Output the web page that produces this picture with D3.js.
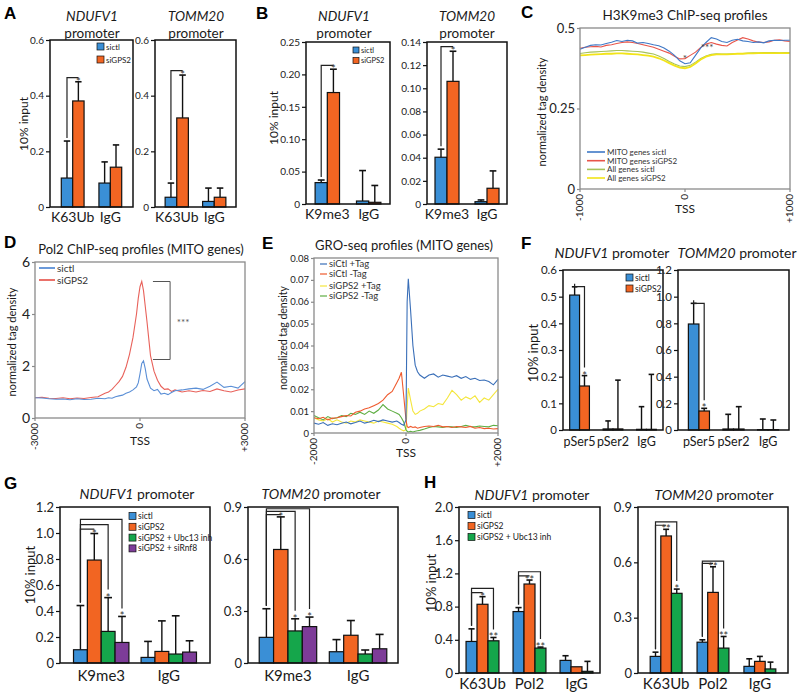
<!DOCTYPE html>
<html><head><meta charset="utf-8">
<script src="https://cdn.jsdelivr.net/npm/d3@7"></script>
<style>body{margin:0;background:#fff}svg{display:block}</style>
</head><body><script>
// ---------------- DATA ----------------
const colBlue = "#3a8fd6", colOrange = "#f26522", colGreen = "#15a64b", colPurple = "#7d3c98";
// Panel A
const catsA = ["K63Ub", "IgG"];
const seriesAB = ["sictl", "siGPS2"];
const a1Sictl = [0.104, 0.086], a1SictlErr = [0.133, 0.076];
const a1SiGPS2 = [0.381, 0.143], a1SiGPS2Err = [0.069, 0.080];
const a2Sictl = [0.035, 0.020], a2SictlErr = [0.051, 0.048];
const a2SiGPS2 = [0.320, 0.035], a2SiGPS2Err = [0.154, 0.033];
const ticksA = [0, 0.2, 0.4, 0.6], tickLabelsA = ["0", "0.2", "0.4", "0.6"];
// Panel B
const catsB = ["K9me3", "IgG"];
const b1Sictl = [0.033, 0.0046], b1SictlErr = [0.004, 0.047];
const b1SiGPS2 = [0.172, 0.0026], b1SiGPS2Err = [0.036, 0.026];
const b2Sictl = [0.0404, 0.002], b2SictlErr = [0.007, 0.0015];
const b2SiGPS2 = [0.106, 0.0136], b2SiGPS2Err = [0.026, 0.015];
const ticksB1 = [0, 0.05, 0.10, 0.15, 0.20, 0.25], tickLabelsB1 = ["0", "0.05", "0.10", "0.15", "0.20", "0.25"];
const ticksB2 = [0, 0.02, 0.04, 0.06, 0.08, 0.10, 0.12, 0.14], tickLabelsB2 = ["0", "0.02", "0.04", "0.06", "0.08", "0.10", "0.12", "0.14"];
// Panel C
const cX = [-1000,-950,-900,-850,-800,-750,-700,-650,-600,-550,-500,-450,-400,-350,-300,-250,-200,-150,-100,-50,0,50,100,150,200,250,300,350,400,450,500,550,600,650,700,750,800,850,900,950,1000];
const cMitoSictl = [0.434,0.44,0.446,0.448,0.447,0.452,0.456,0.461,0.458,0.462,0.460,0.453,0.455,0.452,0.448,0.445,0.438,0.428,0.415,0.398,0.389,0.392,0.415,0.438,0.455,0.470,0.466,0.458,0.455,0.462,0.465,0.46,0.458,0.455,0.457,0.454,0.46,0.462,0.461,0.462,0.462];
const cMitoSiGPS2 = [0.437,0.44,0.442,0.443,0.441,0.446,0.448,0.452,0.455,0.457,0.455,0.452,0.448,0.444,0.44,0.434,0.428,0.422,0.412,0.404,0.405,0.415,0.425,0.44,0.45,0.455,0.45,0.446,0.444,0.455,0.463,0.47,0.466,0.46,0.456,0.455,0.457,0.462,0.463,0.46,0.458];
const cAllSictl = [0.421,0.423,0.425,0.426,0.427,0.428,0.429,0.43,0.43,0.429,0.428,0.427,0.425,0.422,0.419,0.413,0.405,0.396,0.388,0.382,0.38,0.384,0.394,0.405,0.413,0.418,0.42,0.419,0.419,0.42,0.421,0.421,0.422,0.423,0.423,0.424,0.424,0.424,0.423,0.424,0.424];
const cAllSiGPS2 = [0.415,0.416,0.417,0.418,0.419,0.42,0.42,0.421,0.421,0.42,0.419,0.418,0.416,0.414,0.411,0.406,0.399,0.391,0.383,0.377,0.375,0.379,0.39,0.402,0.411,0.416,0.418,0.418,0.418,0.419,0.42,0.42,0.421,0.421,0.422,0.422,0.422,0.422,0.422,0.422,0.422];
const cYTicks = [0, 0.25, 0.5], cYLabels = ["0", "0.25", "0.5"];
const cXTicks = [-1000, 0, 1000], cXLabels = ["-1000", "0", "+1000"];
const cNames = ["MITO genes sictl", "MITO genes siGPS2", "All genes sictl", "All genes siGPS2"];
// Panel D
const dX = [-3000,-2800,-2600,-2400,-2200,-2000,-1800,-1600,-1400,-1200,-1000,-900,-800,-700,-600,-500,-400,-300,-200,-100,-50,0,50,100,150,200,300,400,500,600,700,800,900,1000,1200,1400,1600,1800,2000,2200,2400,2600,2800,3000];
const dSictl = [0.78,0.77,0.74,0.72,0.73,0.70,0.74,0.71,0.72,0.76,0.74,0.78,0.76,0.82,0.85,0.88,0.95,1.0,1.08,1.2,1.35,1.7,2.1,2.2,1.9,1.5,1.15,1.05,1.1,0.92,0.95,0.9,0.98,1.05,1.08,1.12,1.15,1.1,1.22,1.38,1.18,1.22,1.15,1.4];
const dSiGPS2 = [0.78,0.80,0.76,0.75,0.78,0.74,0.77,0.75,0.79,0.82,0.95,1.0,1.1,1.25,1.4,1.6,1.95,2.45,3.1,4.0,4.6,5.05,5.25,4.9,4.3,3.7,2.4,1.8,1.45,1.22,1.1,1.12,1.02,1.08,1.0,1.05,1.0,1.06,1.02,1.12,1.05,1.0,1.08,1.12];
const dYTicks = [0, 2, 4, 6], dYLabels = ["0", "2", "4", "6"];
const dXTicks = [-3000, 0, 3000], dXLabels = ["-3000", "0", "+3000"];
// Panel E
const eX = [-2000,-1900,-1800,-1700,-1600,-1500,-1400,-1300,-1200,-1100,-1000,-900,-800,-700,-600,-500,-400,-300,-200,-150,-100,-50,0,25,50,100,150,200,250,300,400,500,600,700,800,900,1000,1100,1200,1300,1400,1500,1600,1700,1800,1900,2000];
const eSiCtlPlus = [.0045,.0040,.0048,.0035,.0042,.0038,.0045,.0050,.0042,.0048,.0055,.0045,.0050,.0058,.0052,.0060,.0055,.0050,.0055,.0048,.0040,.0035,.0060,.0600,.0705,.0560,.0400,.0310,.0280,.0265,.0250,.0265,.0270,.0255,.0265,.0260,.0255,.0262,.0250,.0258,.0245,.0250,.0240,.0242,.0235,.0220,.0245];
const eSiCtlMinus = [.0070,.0065,.0072,.0060,.0068,.0070,.0075,.0080,.0078,.0095,.0100,.0110,.0115,.0125,.0135,.0150,.0175,.0190,.0230,.0250,.0278,.0170,.0060,.0030,.0025,.0030,.0025,.0028,.0022,.0025,.0030,.0032,.0030,.0035,.0028,.0030,.0025,.0030,.0028,.0025,.0030,.0022,.0025,.0020,.0022,.0018,.0020];
const eSiGPS2Plus = [.0070,.0060,.0055,.0065,.0050,.0060,.0050,.0045,.0055,.0050,.0060,.0055,.0050,.0045,.0055,.0050,.0045,.0040,.0030,.0022,.0015,.0010,.0015,.0120,.0205,.0150,.0100,.0085,.0090,.0100,.0110,.0125,.0120,.0135,.0130,.0160,.0195,.0175,.0150,.0165,.0155,.0170,.0140,.0160,.0150,.0175,.0200];
const eSiGPS2Minus = [.0080,.0070,.0060,.0075,.0065,.0070,.0080,.0075,.0090,.0085,.0095,.0085,.0100,.0090,.0105,.0130,.0110,.0100,.0090,.0085,.0070,.0050,.0015,.0008,.0005,.0008,.0005,.0008,.0010,.0012,.0018,.0025,.0030,.0028,.0025,.0030,.0028,.0025,.0030,.0035,.0030,.0028,.0032,.0030,.0028,.0035,.0033];
const eYTicks = [0,0.01,0.02,0.03,0.04,0.05,0.06,0.07,0.08], eYLabels = ["0","0.01","0.02","0.03","0.04","0.05","0.06","0.07","0.08"];
const eXTicks = [-2000, 0, 2000], eXLabels = ["-2000", "0", "+2000"];
const eNames = ["siCtl +Tag", "siCtl -Tag", "siGPS2 +Tag", "siGPS2 -Tag"];
// Panel F
const catsF = ["pSer5", "pSer2", "IgG"];
const f1Sictl = [0.506, 0.004, 0.0025], f1SictlErr = [0.031, 0.030, 0.085];
const f1SiGPS2 = [0.165, 0.004, 0.0025], f1SiGPS2Err = [0.039, 0.183, 0.206];
const f2Sictl = [0.795, 0.0075, 0.0025], f2SictlErr = [0.155, 0.11, 0.08];
const f2SiGPS2 = [0.1425, 0.0075, 0.0025], f2SiGPS2Err = [0.02, 0.1675, 0.0725];
const ticksF1 = [0,0.1,0.2,0.3,0.4,0.5,0.6], tickLabelsF1 = ["0","0.1","0.2","0.3","0.4","0.5","0.6"];
const ticksF2 = [0,0.2,0.4,0.6,0.8,1.0,1.2], tickLabelsF2 = ["0","0.2","0.4","0.6","0.8","1.0","1.2"];
// Panel G
const catsG = ["K9me3", "IgG"];
const seriesG = ["sictl", "siGPS2", "siGPS2 + Ubc13 inh", "siGPS2 + siRnf8"];
const g1Sictl = [0.102, 0.043], g1SictlErr = [0.34, 0.123];
const g1SiGPS2 = [0.792, 0.089], g1SiGPS2Err = [0.204, 0.235];
const g1Ubc13 = [0.243, 0.069], g1Ubc13Err = [0.26, 0.294];
const g1Rnf8 = [0.158, 0.084], g1Rnf8Err = [0.20, 0.087];
const g2Sictl = [0.148, 0.065], g2SictlErr = [0.165, 0.07];
const g2SiGPS2 = [0.655, 0.16], g2SiGPS2Err = [0.188, 0.085];
const g2Ubc13 = [0.185, 0.052], g2Ubc13Err = [0.07, 0.023];
const g2Rnf8 = [0.21, 0.082], g2Rnf8Err = [0.055, 0.083];
const ticksG1 = [0,0.2,0.4,0.6,0.8,1.0,1.2], tickLabelsG1 = ["0","0.2","0.4","0.6","0.8","1.0","1.2"];
const ticksG2 = [0,0.3,0.6,0.9], tickLabelsG2 = ["0","0.3","0.6","0.9"];
// Panel H
const catsH = ["K63Ub", "Pol2", "IgG"];
const seriesH = ["sictl", "siGPS2", "siGPS2 + Ubc13 inh"];
const h1Sictl = [0.38, 0.74, 0.152], h1SictlErr = [0.152, 0.048, 0.056];
const h1SiGPS2 = [0.828, 1.072, 0.075], h1SiGPS2Err = [0.092, 0.048, 0];
const h1Ubc13 = [0.388, 0.30, 0.02], h1Ubc13Err = [0.04, 0.012, 0.12];
const h2Sictl = [0.09, 0.167, 0.036], h2SictlErr = [0.023, 0.013, 0.041];
const h2SiGPS2 = [0.743, 0.437, 0.063], h2SiGPS2Err = [0.036, 0.139, 0.027];
const h2Ubc13 = [0.432, 0.135, 0.022], h2Ubc13Err = [0.023, 0.063, 0.037];
const ticksH1 = [0,0.4,0.8,1.2,1.6,2.0], tickLabelsH1 = ["0","0.4","0.8","1.2","1.6","2.0"];
// significance brackets: [category, from series, to series, bracket height, label]
const bracketsA1 = [["K63Ub",0,1,0.465,"*"]];
const bracketsA2 = [["K63Ub",0,1,0.49,"*"]];
const bracketsB1 = [["K9me3",0,1,0.214,"*"]];
const bracketsB2 = [["K9me3",0,1,0.136,"*"]];
const bracketsF1 = [["pSer5",0,1,0.5375,"*"]];
const bracketsF2 = [["pSer5",0,1,0.95,"*"]];
const bracketsG1 = [["K9me3",0,1,1.03,"*"],["K9me3",0,2,1.065,"*"],["K9me3",0,3,1.105,"*"]];
const bracketsG2 = [["K9me3",0,1,0.856,"*"],["K9me3",0,2,0.875,"*"],["K9me3",0,3,0.89,"*"]];
const bracketsH1 = [["K63Ub",0,1,0.968,"*"],["K63Ub",0,2,1.02,"**"],["Pol2",0,1,1.17,"**"],["Pol2",0,2,1.22,"**"]];
const bracketsH2 = [["K63Ub",0,1,0.801,"**"],["K63Ub",0,2,0.819,"*"],["Pol2",0,1,0.594,"**"],["Pol2",0,2,0.607,"**"]];

// ---------------- DRAWING ----------------
const FONT = "Lato, 'Open Sans', Arial, sans-serif";
const svg = d3.select("body").append("svg").attr("width", 800).attr("height", 693);

function addText(parent, x, y, str, size, anchor, fill) {
  return parent.append("text").attr("x", x).attr("y", y).attr("text-anchor", anchor || "middle")
    .style("font-family", FONT).style("font-size", size + "px").attr("fill", fill || "#1a1a1a").text(str);
}
function vText(parent, x, y, str, size) {
  return parent.append("text").attr("transform", `translate(${x},${y}) rotate(-90)`).attr("text-anchor", "middle")
    .attr("dominant-baseline", "middle").style("font-family", FONT).style("font-size", size + "px").attr("fill", "#1a1a1a").text(str);
}
function letter(t, x, y) {
  svg.append("text").attr("x", x).attr("y", y).text(t)
    .style("font-family", "'Liberation Sans', Arial, sans-serif").style("font-weight", "bold").style("font-size", "17px");
}
function leftAxis(g, y, x0, ticks, labels, size, color, len) {
  const ga = g.append("g").attr("transform", `translate(${x0},0)`)
    .call(d3.axisLeft(y).tickValues(ticks).tickFormat((d, i) => labels[i]).tickSize(len).tickPadding(2));
  ga.select(".domain").remove();
  ga.selectAll("line").attr("stroke", color).attr("stroke-width", 1.2);
  ga.selectAll("text").style("font-family", FONT).style("font-size", size + "px").attr("fill", "#222");
}

function barChart(c) {
  const g = svg.append("g");
  const y = d3.scaleLinear().domain([0, c.yMax]).range([c.y1, c.y0]);
  const x = d3.scaleBand().domain(c.cats).range([c.x0, c.x1]).paddingInner(c.pi).paddingOuter(c.po);
  const xs = d3.scaleBand().domain(c.series).range([0, x.bandwidth()]);
  const cx = (cat, si) => x(cat) + xs(c.series[si]) + xs.bandwidth() / 2;
  const topOf = (cat, si) => { const i = c.cats.indexOf(cat); return c.vals[si][i] + c.errs[si][i]; };
  const cap = xs.bandwidth() * 0.28;
  c.series.forEach((s, si) => {
    c.cats.forEach((cat, ci) => {
      const v = c.vals[si][ci], e = c.errs[si][ci], xc = cx(cat, si);
      if (e > 0) {
        g.append("line").attr("x1", xc).attr("x2", xc).attr("y1", y(v)).attr("y2", y(v + e)).attr("stroke", "#111").attr("stroke-width", 1.4);
        g.append("line").attr("x1", xc - cap).attr("x2", xc + cap).attr("y1", y(v + e)).attr("y2", y(v + e)).attr("stroke", "#111").attr("stroke-width", 1.6);
      }
    });
  });
  c.series.forEach((s, si) => {
    g.selectAll(null).data(c.vals[si]).join("rect")
      .attr("x", (d, i) => x(c.cats[i]) + xs(s)).attr("y", d => y(d))
      .attr("width", xs.bandwidth()).attr("height", d => c.y1 - y(d))
      .attr("fill", c.colors[si]).attr("stroke", "#111").attr("stroke-width", 1.2);
  });
  g.append("rect").attr("x", c.x0).attr("y", c.y0).attr("width", c.x1 - c.x0).attr("height", c.y1 - c.y0)
    .attr("fill", "none").attr("stroke", "#111").attr("stroke-width", 1.5);
  leftAxis(g, y, c.x0, c.ticks, c.tickLabels, c.tickFont, "#111", 4);
  c.cats.forEach(cat => addText(g, x(cat) + x.bandwidth() / 2, c.catY, cat, c.catFont));
  (c.brackets || []).forEach(([cat, fi, ti, tp, lab]) => {
    const xa = cx(cat, fi), xb = cx(cat, ti);
    const ya = y(topOf(cat, fi)) - 3, yt = y(tp), ytb = y(topOf(cat, ti));
    let d = `M${xa},${ya}V${yt}H${xb}`;
    if (ytb - 8 > yt) d += `V${ytb - 8}`;
    g.append("path").attr("d", d).attr("fill", "none").attr("stroke", "#222").attr("stroke-width", 1.2);
    addText(g, xb, ytb + 4, lab, c.starFont || 11, "middle", "#333");
  });
  if (c.legend) {
    const L = c.legend;
    c.series.forEach((s, i) => {
      g.append("rect").attr("x", L.x).attr("y", L.y + i * L.dy).attr("width", L.s).attr("height", L.s)
        .attr("fill", c.colors[i]).attr("stroke", "#111").attr("stroke-width", 0.7);
      addText(g, L.x + L.s + 2, L.y + i * L.dy + L.s - 0.5, s, L.font, "start");
    });
  }
  const T = c.title;
  if (T.two) {
    addText(g, T.cx, T.y, c.gene, T.size).style("font-style", "italic");
    addText(g, T.cx, T.y2, "promoter", T.size);
  } else {
    const t = addText(g, T.cx, T.y, "", T.size);
    t.append("tspan").style("font-style", "italic").text(c.gene);
    t.append("tspan").text(" promoter");
  }
}

function lineChart(c) {
  const g = svg.append("g");
  const x = d3.scaleLinear().domain(c.xDomain).range([c.x0, c.x1]);
  const y = d3.scaleLinear().domain(c.yDomain).range([c.y1, c.y0]);
  const line = d3.line().x((d, i) => x(c.xs[i])).y(d => y(d));
  c.draw.forEach(i => {
    const s = c.series[i];
    g.append("path").attr("d", line(s.values)).attr("fill", "none").attr("stroke", s.color).attr("stroke-width", s.w || 1.1);
  });
  g.append("rect").attr("x", c.x0).attr("y", c.y0).attr("width", c.x1 - c.x0).attr("height", c.y1 - c.y0)
    .attr("fill", "none").attr("stroke", "#8a8a8a").attr("stroke-width", 1.3);
  leftAxis(g, y, c.x0, c.yTicks, c.yLabels, c.yFont, "#8a8a8a", 3);
  c.xTicks.forEach((t, i) => {
    g.append("line").attr("x1", x(t)).attr("x2", x(t)).attr("y1", c.y1).attr("y2", c.y1 + 3).attr("stroke", "#8a8a8a").attr("stroke-width", 1.2);
    g.append("text").attr("transform", `translate(${x(t)},${c.y1 + 5}) rotate(-90)`).attr("text-anchor", "end")
      .attr("dominant-baseline", "middle").style("font-family", FONT).style("font-size", c.xFont + "px").attr("fill", "#222").text(c.xLabels[i]);
  });
  addText(g, x(0), c.tssY, "TSS", c.tssFont);
  vText(g, c.ylab[0], c.ylab[1], "normalized tag density", c.ylabFont);
  addText(g, c.titleX, c.titleY, c.title, c.titleFont);
  const L = c.legend;
  c.series.forEach((s, i) => {
    g.append("line").attr("x1", L.x).attr("x2", L.x + L.len).attr("y1", L.ys[i]).attr("y2", L.ys[i]).attr("stroke", s.color).attr("stroke-width", L.w);
    addText(g, L.x + L.len + 2, L.ys[i] + L.font * 0.35, s.name, L.font, "start", "#333");
  });
  return { g, x, y };
}

// letters
letter("A", 4, 19); letter("B", 256, 19); letter("C", 521, 18); letter("D", 4, 248);
letter("E", 262, 249); letter("F", 521, 249); letter("G", 4, 489); letter("H", 424, 488);

// Panel A
barChart({ x0: 50, x1: 133, y0: 40, y1: 207, pi: 0.395, po: 0.3, yMax: 0.6, ticks: ticksA, tickLabels: tickLabelsA, tickFont: 10,
  cats: catsA, series: seriesAB, colors: [colBlue, colOrange], vals: [a1Sictl, a1SiGPS2], errs: [a1SictlErr, a1SiGPS2Err],
  catY: 222, catFont: 14, gene: "NDUFV1", title: { two: true, cx: 92, y: 21, y2: 38, size: 13.5 },
  legend: { x: 97, y: 43, dy: 13, s: 7, font: 8 }, brackets: bracketsA1 });
barChart({ x0: 155, x1: 236, y0: 40, y1: 207, pi: 0.38, po: 0.27, yMax: 0.6, ticks: ticksA, tickLabels: tickLabelsA, tickFont: 10,
  cats: catsA, series: seriesAB, colors: [colBlue, colOrange], vals: [a2Sictl, a2SiGPS2], errs: [a2SictlErr, a2SiGPS2Err],
  catY: 222, catFont: 14, gene: "TOMM20", title: { two: true, cx: 196, y: 21, y2: 38, size: 13.5 }, brackets: bracketsA2 });
vText(svg, 25, 124, "10% input", 12);

// Panel B
barChart({ x0: 306, x1: 390, y0: 42, y1: 204, pi: 0.41, po: 0.22, yMax: 0.25, ticks: ticksB1, tickLabels: tickLabelsB1, tickFont: 10,
  cats: catsB, series: seriesAB, colors: [colBlue, colOrange], vals: [b1Sictl, b1SiGPS2], errs: [b1SictlErr, b1SiGPS2Err],
  catY: 219, catFont: 14, gene: "NDUFV1", title: { two: true, cx: 344, y: 21, y2: 38, size: 13.5 },
  legend: { x: 353, y: 47, dy: 10.5, s: 6, font: 7.5 }, brackets: bracketsB1 });
barChart({ x0: 427, x1: 507, y0: 42, y1: 204, pi: 0.4, po: 0.2, yMax: 0.14, ticks: ticksB2, tickLabels: tickLabelsB2, tickFont: 10,
  cats: catsB, series: seriesAB, colors: [colBlue, colOrange], vals: [b2Sictl, b2SiGPS2], errs: [b2SictlErr, b2SiGPS2Err],
  catY: 219, catFont: 14, gene: "TOMM20", title: { two: true, cx: 467, y: 21, y2: 38, size: 13.5 }, brackets: bracketsB2 });
vText(svg, 275, 118, "10% input", 12);

// Panel C
const C = lineChart({ x0: 580, x1: 790, y0: 28, y1: 189, xDomain: [-1000, 1000], yDomain: [0, 0.5], xs: cX,
  series: [{ name: cNames[0], values: cMitoSictl, color: "#3f78c6" }, { name: cNames[1], values: cMitoSiGPS2, color: "#e8554a" },
           { name: cNames[2], values: cAllSictl, color: "#a6c25a" }, { name: cNames[3], values: cAllSiGPS2, color: "#f2e418", w: 1.8 }],
  draw: [2, 3, 1, 0], yTicks: cYTicks, yLabels: cYLabels, yFont: 13, xTicks: cXTicks, xLabels: cXLabels, xFont: 10,
  tssY: 213, tssFont: 12, ylab: [543, 112], ylabFont: 11, title: "H3K9me3 ChIP-seq profiles", titleX: 685, titleY: 20, titleFont: 13.5,
  legend: { x: 587, len: 18, ys: [152, 160.7, 169.4, 178], font: 8, w: 1.6 } });
addText(C.g, C.x(0), C.y(0.395), "*", 10, "middle", "#444");
addText(C.g, C.x(210), C.y(0.428), "***", 10, "middle", "#444");

// Panel D
const D = lineChart({ x0: 35, x1: 245, y0: 262, y1: 418, xDomain: [-3000, 3000], yDomain: [0, 6], xs: dX,
  series: [{ name: "sictl", values: dSictl, color: "#5b8fd6" }, { name: "siGPS2", values: dSiGPS2, color: "#e8615a" }],
  draw: [1, 0], yTicks: dYTicks, yLabels: dYLabels, yFont: 14, xTicks: dXTicks, xLabels: dXLabels, xFont: 10,
  tssY: 445, tssFont: 12, ylab: [13, 342], ylabFont: 11, title: "Pol2 ChIP-seq profiles (MITO genes)", titleX: 141, titleY: 254, titleFont: 13,
  legend: { x: 39, len: 16, ys: [268, 280], font: 10, w: 1.8 } });
D.g.append("path").attr("d", `M${D.x(370)},${D.y(5.25)}H${D.x(860)}V${D.y(2.25)}H${D.x(370)}`).attr("fill", "none").attr("stroke", "#555").attr("stroke-width", 1);
addText(D.g, D.x(1230), D.y(3.55), "***", 10, "middle", "#555");

// Panel E
lineChart({ x0: 314, x1: 498, y0: 258, y1: 433, xDomain: [-2000, 2000], yDomain: [0, 0.08], xs: eX,
  series: [{ name: eNames[0], values: eSiCtlPlus, color: "#3a6fb8" }, { name: eNames[1], values: eSiCtlMinus, color: "#ef5a2e" },
           { name: eNames[2], values: eSiGPS2Plus, color: "#f4e63c" }, { name: eNames[3], values: eSiGPS2Minus, color: "#5fae43" }],
  draw: [2, 3, 1, 0], yTicks: eYTicks, yLabels: eYLabels, yFont: 9.5, xTicks: eXTicks, xLabels: eXLabels, xFont: 10,
  tssY: 457, tssFont: 12, ylab: [284, 338], ylabFont: 10.5, title: "GRO-seq profiles (MITO genes)", titleX: 404, titleY: 250, titleFont: 13,
  legend: { x: 320, len: 7, ys: [264, 274, 286, 296], font: 9.5, w: 1.2 } });

// Panel F
barChart({ x0: 563, x1: 663, y0: 270, y1: 430, pi: 0.41, po: 0.2, yMax: 0.6, ticks: ticksF1, tickLabels: tickLabelsF1, tickFont: 11.5,
  cats: catsF, series: seriesAB, colors: [colBlue, colOrange], vals: [f1Sictl, f1SiGPS2], errs: [f1SictlErr, f1SiGPS2Err],
  catY: 446, catFont: 12.5, gene: "NDUFV1", title: { cx: 612, y: 258, size: 14 },
  legend: { x: 626, y: 274, dy: 11, s: 7, font: 8.5 }, brackets: bracketsF1 });
barChart({ x0: 678, x1: 789, y0: 270, y1: 430, pi: 0.39, po: 0.3, yMax: 1.2, ticks: ticksF2, tickLabels: tickLabelsF2, tickFont: 11.5,
  cats: catsF, series: seriesAB, colors: [colBlue, colOrange], vals: [f2Sictl, f2SiGPS2], errs: [f2SictlErr, f2SiGPS2Err],
  catY: 446, catFont: 12.5, gene: "TOMM20", title: { cx: 737, y: 258, size: 14 }, brackets: bracketsF2 });
vText(svg, 535, 353, "10% input", 13);

// Panel G
const colorsG = [colBlue, colOrange, colGreen, colPurple];
barChart({ x0: 60, x1: 210, y0: 507, y1: 663, pi: 0.18, po: 0.2, yMax: 1.2, ticks: ticksG1, tickLabels: tickLabelsG1, tickFont: 13,
  cats: catsG, series: seriesG, colors: colorsG, vals: [g1Sictl, g1SiGPS2, g1Ubc13, g1Rnf8], errs: [g1SictlErr, g1SiGPS2Err, g1Ubc13Err, g1Rnf8Err],
  catY: 681, catFont: 15, gene: "NDUFV1", title: { cx: 137, y: 499, size: 14 },
  legend: { x: 129, y: 512.5, dy: 10.8, s: 7, font: 8.5 }, brackets: bracketsG1 });
barChart({ x0: 248, x1: 398, y0: 507, y1: 663, pi: 0.18, po: 0.16, yMax: 0.9, ticks: ticksG2, tickLabels: tickLabelsG2, tickFont: 13,
  cats: catsG, series: seriesG, colors: colorsG, vals: [g2Sictl, g2SiGPS2, g2Ubc13, g2Rnf8], errs: [g2SictlErr, g2SiGPS2Err, g2Ubc13Err, g2Rnf8Err],
  catY: 681, catFont: 15, gene: "TOMM20", title: { cx: 321, y: 499, size: 14 }, brackets: bracketsG2 });
vText(svg, 32, 575, "10% input", 13);

// Panel H
const colorsH = [colBlue, colOrange, colGreen];
barChart({ x0: 459, x1: 600, y0: 507, y1: 673, pi: 0.3, po: 0.15, yMax: 2.0, ticks: ticksH1, tickLabels: tickLabelsH1, tickFont: 13,
  cats: catsH, series: seriesH, colors: colorsH, vals: [h1Sictl, h1SiGPS2, h1Ubc13], errs: [h1SictlErr, h1SiGPS2Err, h1Ubc13Err],
  catY: 689, catFont: 15, gene: "NDUFV1", title: { cx: 532, y: 500, size: 14 },
  legend: { x: 468, y: 511.5, dy: 11, s: 7, font: 8.5 }, brackets: bracketsH1 });
barChart({ x0: 638, x1: 788, y0: 507, y1: 673, pi: 0.32, po: 0.26, yMax: 0.9, ticks: ticksG2, tickLabels: tickLabelsG2, tickFont: 13,
  cats: catsH, series: seriesH, colors: colorsH, vals: [h2Sictl, h2SiGPS2, h2Ubc13], errs: [h2SictlErr, h2SiGPS2Err, h2Ubc13Err],
  catY: 689, catFont: 15, gene: "TOMM20", title: { cx: 714, y: 500, size: 14 }, brackets: bracketsH2 });
vText(svg, 433, 583, "10% input", 13);
</script></body></html>
